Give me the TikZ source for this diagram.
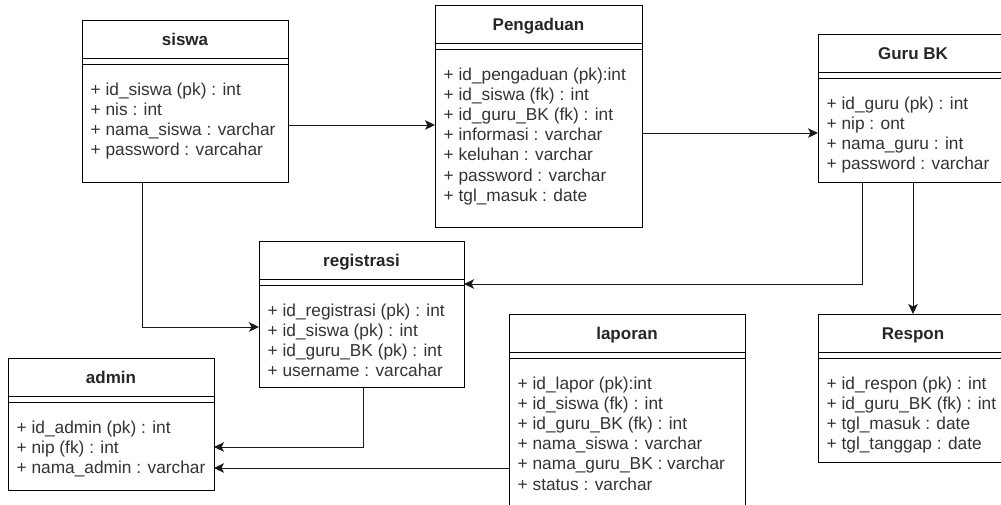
\documentclass[tikz,border=0pt]{standalone}
\usepackage{fontspec}
\setmainfont{Liberation Sans}
\usetikzlibrary{arrows.meta}

\tikzset{
  cls/.style={draw=black, line width=1pt, fill=white, inner sep=0pt, outer sep=0pt, anchor=north west},
  sep/.style={draw=black, line width=1pt},
  ttl/.style={anchor=base, inner sep=0pt, text=black!85, font=\fontsize{17}{20}\selectfont\bfseries},
  attr/.style={anchor=base west, inner sep=0pt, text=black!80, font=\fontsize{17.3}{20}\selectfont},
  arr/.style={draw=black!90, line width=1pt, -{Stealth[length=10pt,width=9.5pt,inset=2.5pt]}},
}

% title, two header rules and one node per attribute line
\newcommand{\umlclass}[3]{%
  \node[ttl] (#1-t) at ([yshift=-25.5pt]#1.north) {#2};
  \draw[sep] ([yshift=-38pt]#1.north west) -- ([yshift=-38pt]#1.north east);
  \draw[sep] ([yshift=-44pt]#1.north west) -- ([yshift=-44pt]#1.north east);
  \foreach \t [count=\i] in {#3} {
    \node[attr] (#1-a\i) at ([xshift=8.5pt,yshift={-75pt-(\i-1)*20.2pt}]#1.north west) {\t};
  }%
}

\begin{document}
\begin{tikzpicture}[x=1pt,y=-1pt]
\useasboundingbox (0,0) rectangle (1001,504);
\fill[white] (0,0) rectangle (1001,504);
\clip (0,0) rectangle (1001,504);

% class boxes
\node[cls, minimum width=206, minimum height=162] (siswa) at (82,20) {};
\node[cls, minimum width=207, minimum height=222] (peng) at (435,5) {};
\node[cls, minimum width=190, minimum height=148] (guru) at (818,34) {};
\node[cls, minimum width=205, minimum height=146] (reg) at (259,241) {};
\node[cls, minimum width=206, minimum height=132] (admin) at (8,358) {};
\node[cls, minimum width=236, minimum height=204] (lap) at (509,314) {};
\node[cls, minimum width=190, minimum height=148] (resp) at (818,314) {};

\umlclass{siswa}{siswa}{+ id\_siswa (pk) : int, + nis : int, + nama\_siswa : varchar, + password : varcahar}
\umlclass{peng}{Pengaduan}{+ id\_pengaduan (pk):int, + id\_siswa (fk) : int, + id\_guru\_BK (fk) : int, + informasi : varchar, + keluhan : varchar, + password : varchar, + tgl\_masuk : date}
\umlclass{guru}{Guru BK}{+ id\_guru (pk) : int, + nip : ont, + nama\_guru : int, + password : varchar}
\umlclass{reg}{registrasi}{+ id\_registrasi (pk) : int, + id\_siswa (pk) : int, + id\_guru\_BK (pk) : int, + username : varcahar}
\umlclass{admin}{admin}{+ id\_admin (pk) : int, + nip (fk) : int, + nama\_admin : varchar}
\umlclass{lap}{laporan}{+ id\_lapor (pk):int, + id\_siswa (fk) : int, + id\_guru\_BK (fk) : int, + nama\_siswa : varchar, + nama\_guru\_BK : varchar, + status : varchar}
\umlclass{resp}{Respon}{+ id\_respon (pk) : int, + id\_guru\_BK (fk) : int, + tgl\_masuk : date, + tgl\_tanggap : date}

% associations
\draw[arr] (siswa.east |- 0,125) -- (peng.west |- 0,125);
\draw[arr] (peng.east |- 0,133) -- (guru.west |- 0,133);
\draw[arr] (guru.south -| 862,0) |- (reg.east |- 0,284);
\draw[arr] (guru.south) -- (resp.north);
\draw[arr] (siswa.south -| 142,0) |- (reg.west |- 0,327);
\draw[arr] (reg.south -| 363,0) |- (admin.east |- 0,447);
\draw[arr] (lap.west |- 0,468) -- (admin.east |- 0,468);
\end{tikzpicture}
\end{document}
